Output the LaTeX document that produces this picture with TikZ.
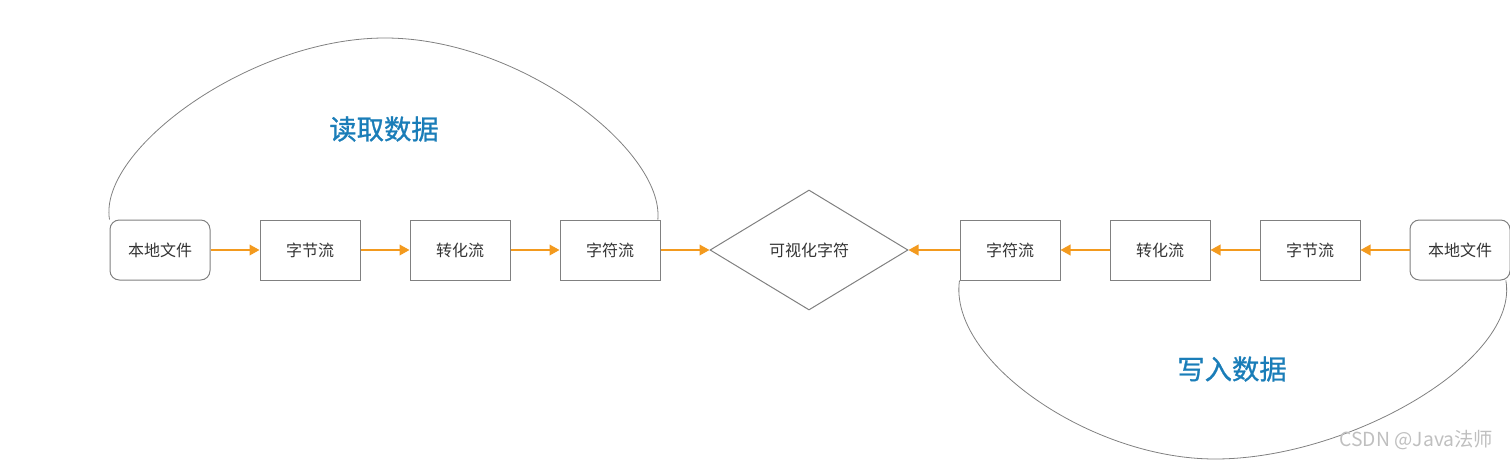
\documentclass[tikz,border=0pt]{standalone}
\usepackage{fontspec}
\setmainfont{Noto Sans CJK SC}
\newfontfamily\titlefont[FakeBold=0.9]{Noto Sans CJK SC}
\usetikzlibrary{arrows.meta,shapes.geometric,positioning}
\definecolor{flowline}{HTML}{F39A1E}
\definecolor{boxline}{HTML}{808080}
\definecolor{titleblue}{HTML}{1A7DB8}
\definecolor{boxtext}{HTML}{333333}

\begin{document}
\begin{tikzpicture}[x=0.75pt, y=-0.75pt,
  every node/.style={font=\fontsize{12}{14}\selectfont, text=boxtext},
  streambox/.style={draw=boxline, line width=0.75pt, minimum width=75pt, minimum height=45pt, inner sep=0pt},
  filebox/.style={streambox, rounded corners=7pt},
  flowarrow/.style={-{Triangle[length=7.5pt,width=8pt]}, flowline, line width=1.3pt},
  looparc/.style={draw=boxline, line width=0.6pt},
  looptitle/.style={font=\titlefont\fontsize{20.5}{24}\selectfont, text=titleblue}]
  \useasboundingbox (0,0) rectangle (1510,461);
  % reading side
  \node[filebox] (lfile) at (160,250) {本地文件};
  \node[streambox] (lbyte) at (310,250) {字节流};
  \node[streambox] (lconv) at (460,250) {转化流};
  \node[streambox] (lchar) at (610,250) {字符流};
  % centre
  \node[diamond, draw=boxline, line width=0.75pt, minimum width=148.5pt, minimum height=90pt, inner sep=0pt] (show) at (809,250) {可视化字符};
  % writing side
  \node[streambox] (rchar) at (1010,250) {字符流};
  \node[streambox] (rconv) at (1160,250) {转化流};
  \node[streambox] (rbyte) at (1310,250) {字节流};
  \node[filebox] (rfile) at (1460,250) {本地文件};
  % arrows
  \draw[flowarrow] (lfile) -- (lbyte);
  \draw[flowarrow] (lbyte) -- (lconv);
  \draw[flowarrow] (lconv) -- (lchar);
  \draw[flowarrow] (lchar) -- (show);
  \draw[flowarrow] (rfile) -- (rbyte);
  \draw[flowarrow] (rbyte) -- (rconv);
  \draw[flowarrow] (rconv) -- (rchar);
  \draw[flowarrow] (rchar) -- (show);
  % arcs
  \draw[looparc] (lfile.north west) .. controls (98,150) and (250,38) .. (385,38)
    .. controls (520,38) and (664,150) .. ([xshift=-2pt]lchar.north east);
  \draw[looparc] (rchar.south west) .. controls (948,360) and (1090,459) .. (1215,459)
    .. controls (1350,459) and (1520,360) .. ([xshift=-3.5pt]rfile.south east);
  \node[looptitle] (readtitle) at (384,129) {读取数据};
  \node[looptitle] (writetitle) at (1232,369) {写入数据};
  % watermark
  \node[text=gray!50, font=\fontsize{14.5}{16}\selectfont, anchor=east] (mark) at (1498,440) {CSDN @Java法师};
\end{tikzpicture}
\end{document}
